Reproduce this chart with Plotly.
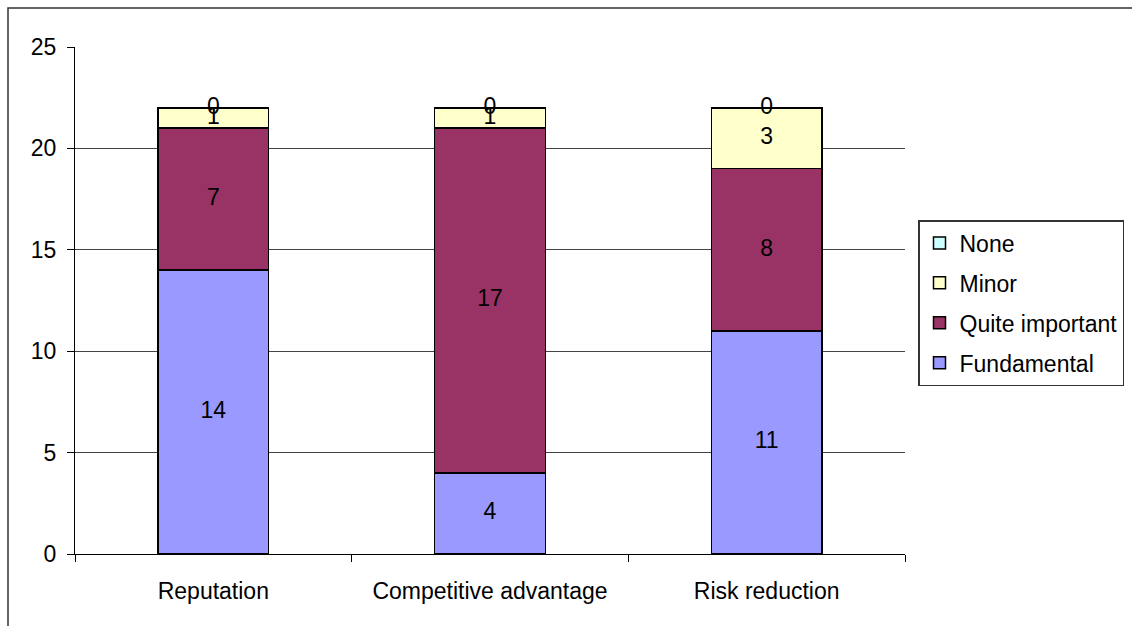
import plotly.graph_objects as go

# Survey results: importance of each motivation (number of respondents)
categories = ["Reputation", "Competitive advantage", "Risk reduction"]
fundamental = [14, 4, 11]
quite_important = [7, 17, 8]
minor = [1, 1, 3]
none = [0, 0, 0]

series = [
    ("Fundamental", fundamental, "#9999FF"),
    ("Quite important", quite_important, "#993366"),
    ("Minor", minor, "#FFFFCC"),
    ("None", none, "#CCFFFF"),
]

FONT = "Liberation Sans, Arial, sans-serif"
FS = 23
W, H = 1132, 626

fig = go.Figure()

n = len(series)
for i, (name, vals, color) in enumerate(series):
    fig.add_trace(go.Bar(
        x=categories, y=vals, name=name,
        marker=dict(color=color, line=dict(color="black", width=1.5)),
        legendgroup=name, legendrank=n - i, hoverinfo="skip",
    ))

# value labels centred on each stacked segment
lab_x, lab_y, lab_t = [], [], []
base = [0] * len(categories)
for name, vals, color in series:
    for j, v in enumerate(vals):
        lab_x.append(categories[j])
        lab_y.append(base[j] + v / 2)
        lab_t.append(str(v))
        base[j] += v
fig.add_trace(go.Scatter(
    x=lab_x, y=lab_y, text=lab_t, mode="text",
    textfont=dict(family=FONT, size=FS, color="black"),
    showlegend=False, hoverinfo="skip", cliponaxis=False,
))

# outer chart frame
fig.add_shape(type="rect", xref="paper", yref="paper",
              x0=(8 - 75) / 830, x1=1.5, y0=-0.5, y1=(554 - 8) / 507,
              line=dict(color="#333333", width=1.5), fillcolor="rgba(0,0,0,0)")

fig.update_layout(
    width=W, height=H,
    margin=dict(l=75, r=227, t=47, b=72, autoexpand=False),
    barmode="stack", bargap=0.6,
    paper_bgcolor="white", plot_bgcolor="white",
    font=dict(family=FONT, size=FS, color="black"),
    showlegend=True,
    legend=dict(
        xref="container", yref="container",
        x=918 / W, xanchor="left",
        y=1 - 220 / H, yanchor="top",
        bordercolor="#333333", borderwidth=1.5,
        traceorder="grouped", tracegroupgap=7,
        font=dict(family=FONT, size=FS, color="black"),
        bgcolor="white",
    ),
    xaxis=dict(
        showline=True, linecolor="black", linewidth=1,
        ticks="outside", ticklen=7, tickcolor="black",
        tickson="boundaries", showgrid=False,
        ticklabelstandoff=16,
    ),
    yaxis=dict(
        range=[0, 25], dtick=5, tick0=0,
        showline=True, linecolor="black", linewidth=1,
        ticks="outside", ticklen=7, tickcolor="black",
        showgrid=True, gridcolor="#444444", gridwidth=1,
        zeroline=False, ticklabelstandoff=6,
    ),
)

fig.write_html("out.html")
